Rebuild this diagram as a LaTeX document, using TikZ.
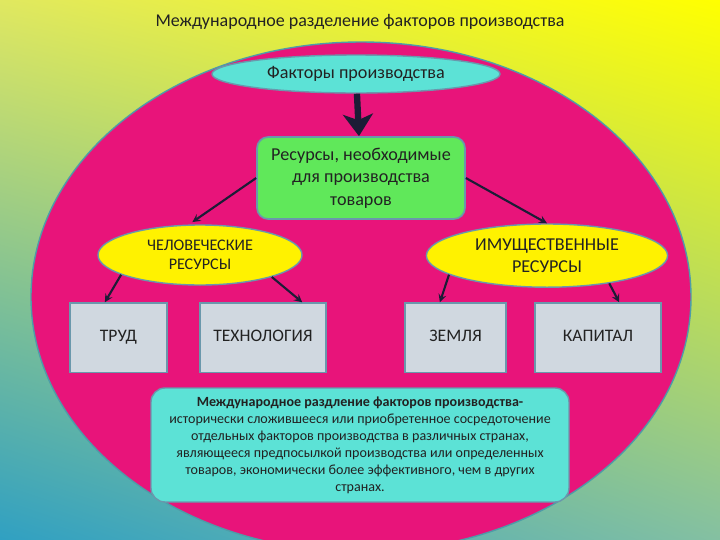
\documentclass[tikz,border=0pt]{standalone}
\usepackage{fontspec}
\setmainfont{Carlito}
\usetikzlibrary{positioning}
\usetikzlibrary{shapes}
\usetikzlibrary{arrows}
\usetikzlibrary{arrows.meta}
\usetikzlibrary{shadings}
\definecolor{bgul}{HTML}{E0E860}
\definecolor{bgur}{HTML}{FFFF00}
\definecolor{bgll}{HTML}{30A0C2}
\definecolor{bglr}{HTML}{84C0A2}
\definecolor{pinkbg}{HTML}{E8147A}
\definecolor{pinkline}{HTML}{4E9CA8}
\definecolor{cyanfill}{HTML}{5CE2D6}
\definecolor{greenfill}{HTML}{60E85A}
\definecolor{boxline}{HTML}{6A98AC}
\definecolor{greyfill}{HTML}{D0D8E0}
\definecolor{arrowc}{HTML}{1C1C36}
\definecolor{txt}{HTML}{222222}
\tikzstyle{oval} = [ellipse,draw=boxline,line width=1pt,fill=yellow,text=txt,align=center,inner sep=0pt]
\tikzstyle{item} = [rectangle,draw=boxline,line width=1pt,fill=greyfill,text=txt,minimum height=1.73cm,text height=1.6ex,text depth=0.3ex,font=\fontsize{12.5}{14}\selectfont]
\tikzstyle{link} = [->,>=stealth,line width=1.5pt,draw=arrowc]

\begin{document}
\begin{tikzpicture}
	\useasboundingbox (0,0) rectangle (18,-13.5);
	\shade[upper left=bgul,upper right=bgur,lower left=bgll,lower right=bglr] (0,0) rectangle (18,-13.5);
	\begin{scope}
	\clip (0,0) rectangle (18,-13.5);
	\draw[fill=pinkbg,draw=pinkline,line width=1pt] (9.025,-7.425) ellipse (8.25 and 6.375);
	\end{scope}
	
	\node [text=txt,font=\fontsize{12.8}{14}\selectfont] (title) at (9,-0.55) {Международное разделение факторов производства};
	%%%%%%%%%%%%%%%
	\node [ellipse,draw=boxline,line width=1pt,fill=cyanfill,text=txt,minimum width=7.2cm,minimum height=0.95cm,font=\fontsize{12.9}{14}\selectfont] (fact) at (8.9,-1.85) {Факторы производства};
	\node [rectangle,rounded corners=8pt,draw=boxline,line width=1.2pt,fill=greenfill,text=txt,align=center,minimum width=5.2cm,minimum height=2.05cm,font=\fontsize{12.9}{16}\selectfont] (res) at (9.025,-4.45) {Ресурсы, необходимые\\для производства\\товаров};
	\draw [-{Stealth[length=0.55cm,width=0.75cm,inset=0.15cm]},line width=4.5pt,draw=arrowc] (fact) -- (res) ;
	%%%%%%%%%%%%%%%
	\node [oval,minimum width=5.1cm,minimum height=1.5cm,font=\fontsize{11.5}{13.5}\selectfont] (hum) at (5,-6.375) {ЧЕЛОВЕЧЕСКИЕ\\РЕСУРСЫ};
	\node [oval,minimum width=6.03cm,minimum height=1.58cm,font=\fontsize{12.9}{16}\selectfont] (prop) at (13.675,-6.39) {ИМУЩЕСТВЕННЫЕ\\РЕСУРСЫ};
	\draw [link,shorten >=3pt] (res.west) -- (hum.110) ;
	\draw [link] (res.east) -- (prop.north) ;
	%%%%%%%%%%%%%%%
	\node [item,minimum width=2.43cm] (trud) at (2.96,-8.44) {ТРУД};
	\node [item,minimum width=3.15cm] (tech) at (6.575,-8.44) {ТЕХНОЛОГИЯ};
	\node [item,minimum width=2.53cm] (land) at (11.39,-8.44) {ЗЕМЛЯ};
	\node [item,minimum width=3.15cm] (cap) at (14.95,-8.44) {КАПИТАЛ};
	\draw [link] (hum.194) -- (trud.111) ;
	\draw [link] (hum.343) -- (tech.42) ;
	\draw [link] (prop.191) -- (land.114) ;
	\draw [link] (prop.336) -- (cap.59) ;
	%%%%%%%%%%%%%%%
	\node [rectangle,rounded corners=10pt,draw=boxline,line width=1pt,fill=cyanfill,text=txt,align=center,minimum width=10.45cm,minimum height=2.85cm,font=\fontsize{10}{12.1}\selectfont] (def) at (9,-11.125) {\textbf{Международное раздление факторов производства-}\\исторически сложившееся или приобретенное сосредоточение\\отдельных факторов производства в различных странах,\\являющееся предпосылкой производства или определенных\\товаров, экономически более эффективного, чем в других\\странах.};
\end{tikzpicture}
\end{document}
